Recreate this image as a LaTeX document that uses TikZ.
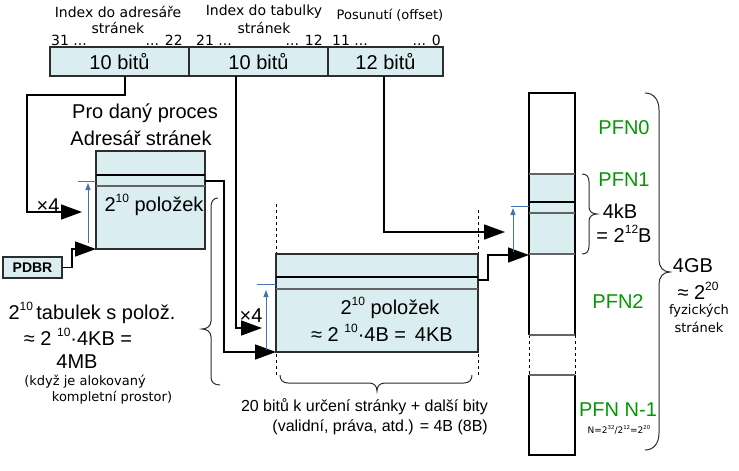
\documentclass[tikz,border=0pt]{standalone}
\usepackage{fontspec}
\setmainfont{Liberation Sans}
\newfontfamily\dvs{DejaVu Sans}
\usetikzlibrary{arrows.meta}
\definecolor{boxfill}{RGB}{218,237,240}
\definecolor{boxline}{RGB}{45,45,45}
\definecolor{rowgrey}{RGB}{100,100,100}
\definecolor{bluearr}{RGB}{68,114,180}
\definecolor{pfngreen}{RGB}{0,153,0}
\newcommand\upidx[1]{\raisebox{0.42em}{\scalebox{0.6}{#1}}}
\begin{document}
\begin{tikzpicture}[x=1pt,y=-1pt,
  txt/.style={inner sep=0pt, font=\fontsize{20}{22}\selectfont},
  smalltxt/.style={inner sep=0pt, font=\dvs\fontsize{13}{15}\selectfont},
  headtxt/.style={inner sep=0pt, font=\dvs\fontsize{14}{16}\selectfont},
  pfnlabel/.style={txt, text=pfngreen},
  regbox/.style={draw=boxline, line width=1.1pt, fill=boxfill, inner sep=0pt, outer sep=0pt, anchor=north west},
  wire/.style={line width=1.5pt, black},
  bigarr/.style={-{Triangle[length=21pt,width=15pt]}},
  bluetick/.style={draw=bluearr, line width=1pt},
  bluearrow/.style={bluearr, line width=1pt, -{Triangle[length=7pt,width=5pt]}},
  dashv/.style={line width=0.8pt, dash pattern=on 3pt off 3pt},
  rowtop/.style={line width=1.2pt, black},
  rowbot/.style={line width=1.6pt, rowgrey},
  brc/.style={line width=1pt, draw=boxline},
  memline/.style={line width=1.2pt, black},
  memsep/.style={line width=1.2pt, rowgrey}]
\useasboundingbox (0,0) rectangle (739,471);

% ---------- register ----------
\node[regbox, minimum width=139pt, minimum height=29pt, font=\fontsize{20}{22}\selectfont] (f1) at (50,47) {10 bitů};
\node[regbox, minimum width=139pt, minimum height=29pt, font=\fontsize{20}{22}\selectfont] (f2) at (189,47) {10 bitů};
\node[regbox, minimum width=115pt, minimum height=29pt, font=\fontsize{20}{22}\selectfont] (f3) at (328,47) {12 bitů};

\node[headtxt] (h1a) at (118,12) {Index do adresáře};
\node[headtxt] (h1b) at (118,28) {stránek};
\node[headtxt, anchor=base west] (b31) at (51,45) {31 ...};
\node[headtxt, anchor=base east] (b22) at (183,45) {... 22};
\node[headtxt] (h2a) at (264,12) {Index do tabulky};
\node[headtxt] (h2b) at (264,28) {stránek};
\node[headtxt, anchor=base west] (b21) at (196,45) {21 ...};
\node[headtxt, anchor=base east] (b12) at (323,45) {... 12};
\node[smalltxt] (h3) at (390,15) {Posunutí (offset)};
\node[headtxt, anchor=base west] (b11) at (332,45) {11 ...};
\node[headtxt, anchor=base east] (b0) at (441,45) {... 0};

% ---------- page directory ----------
\node[txt] (t1) at (145,113) {Pro daný proces};
\node[txt] (t2) at (141,138) {Adresář stránek};
\node[regbox, minimum width=109pt, minimum height=98pt] (dir) at (96,151) {};
\draw[rowtop] (96,175) -- (205,175);
\draw[rowbot] (96,186) -- (205,186);
\node[txt] (dirtxt) at (154,205) {2\upidx{10} položek};

\node[regbox, minimum width=59pt, minimum height=21pt, font=\bfseries\fontsize{14}{16}\selectfont] (pdbr) at (3,257) {PDBR};

% ---------- page table ----------
\draw[dashv] (276,204) -- (276,375);
\draw[dashv] (478,210) -- (478,375);
\node[regbox, minimum width=202pt, minimum height=98pt] (pt) at (276,254) {};
\draw[rowtop] (276,277) -- (478,277);
\draw[rowbot] (276,289) -- (478,289);
\node[txt] (pttxt1) at (390,308) {2\upidx{10} položek};
\node[txt] (pttxt2) at (382,333) {≈ 2 \upidx{10}·4B =\, 4KB};

% ---------- physical memory ----------
\fill[boxfill] (529,174) rectangle (575,254);
\draw[memline] (529,335) -- (529,93) -- (575,93) -- (575,335);
\draw[dashv] (529,335) -- (529,375);
\draw[dashv] (575,335) -- (575,375);
\draw[memline] (529,375) -- (529,455) -- (575,455) -- (575,375);
\draw[memsep] (529,174) -- (575,174);
\draw[rowtop] (529,202) -- (575,202);
\draw[rowbot] (529,213) -- (575,213);
\draw[memsep] (529,254) -- (575,254);
\draw[memsep] (529,335) -- (575,335);
\draw[memsep] (529,375) -- (575,375);

\node[pfnlabel] (pfn0) at (624,128) {PFN0};
\node[pfnlabel] (pfn1) at (624,180) {PFN1};
\node[pfnlabel] (pfn2) at (618,302) {PFN2};
\node[pfnlabel] (pfnn) at (618,410) {PFN N-1};
\node[inner sep=0pt, font=\dvs\fontsize{9}{10}\selectfont] (nform) at (619,430) {N=2\upidx{32}/2\upidx{12}=2\upidx{20}};

\node[txt] (kb1) at (620,211) {4kB};
\node[txt] (kb2) at (624,234) {= 2\upidx{12}B};
\node[txt] (gb1) at (693,266) {4GB};
\node[txt] (gb2) at (698,291) {≈ 2\upidx{20}};
\node[smalltxt] (gb3) at (699,311) {fyzických};
\node[smalltxt] (gb4) at (699,327) {stránek};

% ---------- left texts ----------
\node[txt] (lt1) at (92,313) {2\upidx{10}\,tabulek s polož.};
\node[txt] (lt2) at (78,337) {≈ 2 \upidx{10}·4KB =};
\node[txt] (lt3) at (77,362) {4MB};
\node[smalltxt] (lt4) at (85,382) {(když je alokovaný};
\node[smalltxt] (lt5) at (112,398) {kompletní prostor)};

% ---------- bottom note ----------
\node[inner sep=0pt, font=\fontsize{16}{18}\selectfont, anchor=base east] (note1) at (488,411) {20 bitů k určení stránky + další bity};
\node[inner sep=0pt, font=\fontsize{16}{18}\selectfont, anchor=base east] (note2) at (488,431) {(validní, práva, atd.) = 4B (8B)};

% ---------- braces ----------
\draw[brc] (218,198) .. controls (213,198) and (211,202) .. (211,207) -- (211,321)
  .. controls (211,326) and (207,329) .. (202,329)
  .. controls (207,329) and (211,332) .. (211,337) -- (211,377)
  .. controls (211,382) and (214,385) .. (220,385);
\draw[brc] (280,375) .. controls (280,380) and (283,383) .. (288,383) -- (369,383)
  .. controls (374,383) and (377,386) .. (377,391)
  .. controls (377,386) and (380,383) .. (385,383) -- (464,383)
  .. controls (469,383) and (472,380) .. (472,375);
\draw[brc] (582,174) .. controls (587,174) and (589,177) .. (589,182) -- (589,207)
  .. controls (589,211) and (592,214) .. (597,214)
  .. controls (592,214) and (589,217) .. (589,221) -- (589,246)
  .. controls (589,251) and (587,254) .. (582,254);
\draw[brc] (645,93) .. controls (654,93) and (659,100) .. (659,110) -- (659,260)
  .. controls (659,267) and (663,272) .. (670,272)
  .. controls (663,272) and (659,277) .. (659,284) -- (659,433)
  .. controls (659,443) and (654,450) .. (645,450);

% ---------- connectors ----------
\coordinate (r1) at (125,76);
\coordinate (r2) at (236,76);
\coordinate (r3) at (384,76);
\coordinate (x4tipA) at (82,212);
\coordinate (x4tipB) at (262,328);
\coordinate (offtip) at (505,232);
\coordinate (drow) at (205,181);
\coordinate (ptrow) at (478,280);
\coordinate (memin) at (529,255);

\draw[wire,bigarr] (r1) -- (125,95) -| (27,212) -- (x4tipA);
\node[txt] (x4A) at (48,206) {×4};
\draw[wire,bigarr] (pdbr.east) -- (72,267.5) |- (dir.south west);
\draw[wire,bigarr] (drow) -- (224,181) |- (pt.south west);
\draw[wire,bigarr] (r2) |- (x4tipB);
\node[txt] (x4B) at (251,316) {×4};
\draw[wire,bigarr] (r3) |- (offtip);
\draw[wire,bigarr] (ptrow) -- (488,280) |- (memin);

% ---------- blue offset arrows ----------
\draw[bluetick] (78,181) -- (96,181);
\draw[bluearrow] (88,243) -- (88,183);
\draw[bluetick] (257,284) -- (276,284);
\draw[bluearrow] (266,350) -- (266,290);
\draw[bluetick] (511,206) -- (529,206);
\draw[bluearrow] (513,252) -- (513,208);
\end{tikzpicture}
\end{document}
